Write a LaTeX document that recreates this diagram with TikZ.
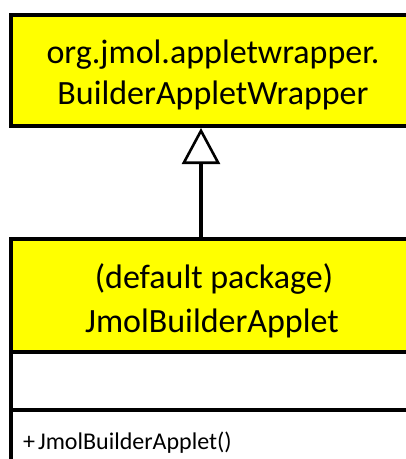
\documentclass[tikz,border=0pt]{standalone}
\usepackage{fontspec}
\setmainfont{Carlito}
\usetikzlibrary{arrows.meta}
\definecolor{umlyellow}{HTML}{FFFF00}
\begin{document}
\begin{tikzpicture}[x=1pt,y=-1pt,
  classbox/.style={draw=black, line width=4pt, fill=umlyellow, inner sep=0pt, minimum width=406pt},
  compbox/.style={draw=black, line width=4pt, fill=white, inner sep=0pt, minimum width=406pt},
  titletext/.style={font=\fontsize{34}{41}\selectfont, anchor=base, inner sep=0pt},
  membertext/.style={font=\fontsize{24}{28}\selectfont, anchor=base west, inner sep=0pt},
  inherit/.style={line width=4pt, -{Triangle[open, width=38pt, length=36pt, line width=2.6pt]}}
]
\useasboundingbox (0,0) rectangle (406,459);
\fill[white] (0,0) rectangle (406,459);
\clip (0,0) rectangle (406,459);
% top class
\node[classbox, minimum height=111pt] (wrapper) at (214,70.5) {};
\node[titletext] (wrapperpkg) at (213,63) {org.jmol.appletwrapper.};
\node[titletext] (wrappername) at (213,104) {BuilderAppletWrapper};
% bottom class
\node[compbox, minimum height=91pt] (methods) at (214,455) {};
\node[compbox, minimum height=58pt] (attrs) at (214,380.5) {};
\node[classbox, minimum height=112.5pt] (applet) at (214,295.25) {};
\node[titletext] (appletpkg) at (214,288) {(default package)};
\node[titletext] (appletname) at (212,332) {JmolBuilderApplet};
\node[membertext] (ctor) at (23,449) {+\kern3pt JmolBuilderApplet()};
% generalization
\coordinate (ax) at (201,0);
\draw[inherit] (applet.north -| ax) -- (wrapper.south -| ax);
\end{tikzpicture}
\end{document}
